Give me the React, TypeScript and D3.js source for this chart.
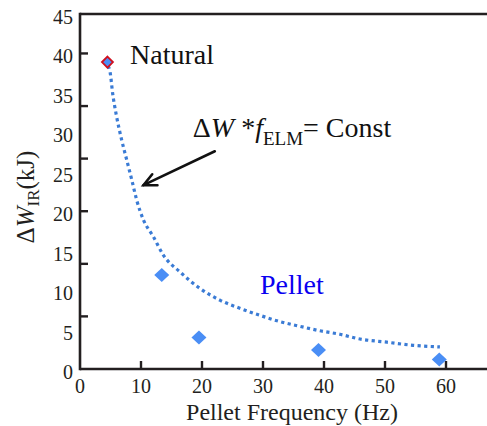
import React from "react";
import * as d3 from "d3";

const W = 487;
const H = 426;

const xTicks = [10, 20, 30, 40, 50, 60];
const xLabels = [0, 10, 20, 30, 40, 50, 60];
const yLabels = [0, 5, 10, 15, 20, 25, 30, 35, 40, 45];
const yTickMarks = [6.67, 13.33, 20, 26.67, 33.33, 40];

const naturalX = [4.5];
const naturalY = [38.9];

const pelletX = [13.4, 19.5, 39.1, 58.9];
const pelletY = [11.9, 4.0, 2.4, 1.2];

const curveX = [4.6, 4.92, 5.36, 6.0, 6.84, 7.66, 8.48, 9.3, 10.4, 12.0, 13.7, 16.4, 19.7, 23.0, 26.2, 29.5, 32.8, 36.1, 39.3, 42.6, 45.9, 50.3, 54.6, 59.0];
const curveY = [38.4, 37.7, 34.9, 32.0, 29.0, 26.5, 24.0, 21.4, 18.9, 16.8, 14.4, 12.3, 10.2, 8.7, 7.7, 6.8, 6.0, 5.4, 4.85, 4.4, 3.8, 3.4, 3.0, 2.8];

const serif = "'Liberation Serif'";

export default function App() {
  const x = d3.scaleLinear().domain([0, 60]).range([80, 446]);
  const y = d3.scaleLinear().domain([0, 45]).range([369, 14]);

  const line = d3
    .line<number>()
    .x((_, i) => x(curveX[i]))
    .y((_, i) => y(curveY[i]))
    .curve(d3.curveMonotoneX);

  const diamond = (cx: number, cy: number, rx: number, ry: number) =>
    `M${cx},${cy - ry}L${cx + rx},${cy}L${cx},${cy + ry}L${cx - rx},${cy}Z`;

  const tail = [22.1, 27.6];
  const head = [10.4, 23.3];
  const hx = x(head[0]);
  const hy = y(head[1]);
  const tx = x(tail[0]);
  const ty = y(tail[1]);
  const ang = Math.atan2(ty - hy, tx - hx);
  const al = 14;
  const spread = 0.45;
  const a1 = [hx + al * Math.cos(ang + spread), hy + al * Math.sin(ang + spread)];
  const a2 = [hx + al * Math.cos(ang - spread), hy + al * Math.sin(ang - spread)];

  const ts = { fontFamily: serif };

  return (
    <svg
      width={W}
      height={H}
      style={{ position: "absolute", left: 0, top: 0, background: "#fff", fontFamily: serif }}
    >
      <g stroke="#231f20" strokeWidth={2.6} fill="none">
        <line x1={x(0)} y1={y(45)} x2={W} y2={y(45)} />
        <line x1={x(0)} y1={y(45) - 1.3} x2={x(0)} y2={y(0) + 1.3} />
        <line x1={x(0)} y1={y(0)} x2={W} y2={y(0)} />
      </g>
      <g stroke="#231f20" strokeWidth={2.4}>
        {xTicks.map((t) => (
          <line key={t} x1={x(t)} x2={x(t)} y1={y(0)} y2={y(0) - 8} />
        ))}
        {yTickMarks.map((t) => (
          <line key={t} x1={x(0)} x2={x(0) + 8} y1={y(t)} y2={y(t)} />
        ))}
      </g>
      <g fill="#231f20">
        {xLabels.map((t) => (
          <text key={t} x={x(t)} y={393} textAnchor="middle" style={{ ...ts, fontSize: 20 }}>
            {t}
          </text>
        ))}
        {yLabels.map((t) => (
          <text key={t} x={73} y={y(t) + 10} textAnchor="end" style={{ ...ts, fontSize: 20 }}>
            {t}
          </text>
        ))}
      </g>

      <text x={292} y={420} textAnchor="middle" fill="#231f20" style={{ ...ts, fontSize: 24 }}>
        Pellet Frequency (Hz)
      </text>
      <text
        transform={`translate(34,197) rotate(-90)`}
        textAnchor="middle"
        fill="#231f20"
        style={{ ...ts, fontSize: 25 }}
      >
        <tspan>Δ</tspan>
        <tspan fontStyle="italic">W</tspan>
        <tspan fontSize={17} dy={5}>IR</tspan>
        <tspan dy={-5}>(kJ)</tspan>
      </text>

      <path
        d={line(curveX) || ""}
        fill="none"
        stroke="#3a7bd5"
        strokeWidth={3.2}
        strokeDasharray="3.2,3.4"
      />

      {pelletX.map((px, i) => (
        <path key={i} d={diamond(x(px), y(pelletY[i]), 7.5, 7)} fill="#4a8ef5" />
      ))}
      {naturalX.map((nx, i) => (
        <path
          key={i}
          d={diamond(x(nx), y(naturalY[i]), 5.5, 5.5)}
          fill="#4a8ef5"
          stroke="#d0101e"
          strokeWidth={1.8}
        />
      ))}

      <text x={x(8.2)} y={y(38.7)} fill="#111" style={{ ...ts, fontSize: 28 }}>
        Natural
      </text>
      <text x={x(29.5)} y={y(9.5)} fill="#0a00f0" style={{ ...ts, fontSize: 28 }}>
        Pellet
      </text>
      <text x={x(18.5)} y={y(29.4)} fill="#111" style={{ ...ts, fontSize: 28 }}>
        <tspan>Δ</tspan>
        <tspan fontStyle="italic">W</tspan>
        <tspan> *</tspan>
        <tspan fontStyle="italic">f</tspan>
        <tspan fontSize={19} dy={8}>ELM</tspan>
        <tspan dy={-8}>= Const</tspan>
      </text>
      <g stroke="#111" strokeWidth={2.6} fill="none" strokeLinecap="round">
        <line x1={tx} y1={ty} x2={hx} y2={hy} />
        <polyline points={`${a1[0]},${a1[1]} ${hx},${hy} ${a2[0]},${a2[1]}`} />
      </g>
    </svg>
  );
}
